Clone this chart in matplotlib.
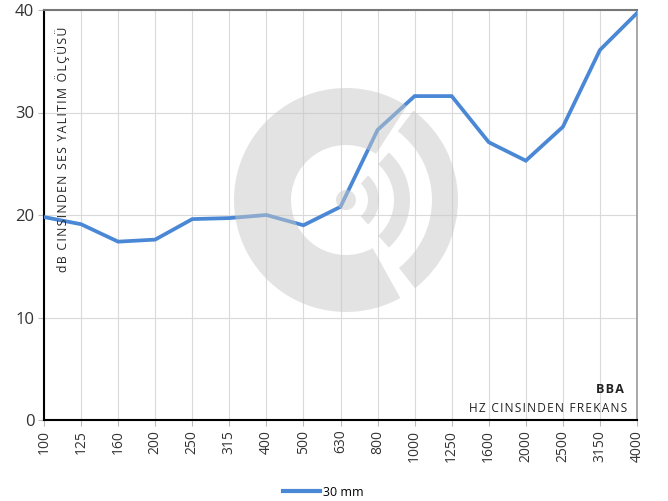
import matplotlib
matplotlib.use("Agg")
import matplotlib.pyplot as plt
from matplotlib.patches import Wedge, Circle
from matplotlib.transforms import IdentityTransform
from matplotlib.lines import Line2D

frequencies = ["100", "125", "160", "200", "250", "315", "400", "500", "630",
               "800", "1000", "1250", "1600", "2000", "2500", "3150", "4000"]
values_30mm = [19.8, 19.1, 17.4, 17.6, 19.6, 19.7, 20.0, 19.0, 20.8,
               28.3, 31.6, 31.6, 27.1, 25.3, 28.6, 36.1, 39.7]
y_ticks = [0, 10, 20, 30, 40]
series_name = "30 mm"
y_title = "dB CINSINDEN SES YALITIM ÖLÇÜSÜ"
x_title = "HZ CINSINDEN FREKANS"
brand = "BBA"

plt.rcParams['font.family'] = ['Open Sans', 'DejaVu Sans']


def spaced(s, sp="\u200a"):
    return sp.join(s)


W, H = 668, 501
fig = plt.figure(figsize=(W / 100, H / 100), dpi=100)
ax = fig.add_axes([44 / W, 1 - 420 / H, (637 - 44) / W, (420 - 10) / H])

x = list(range(len(frequencies)))
ax.set_xlim(0, len(frequencies) - 1)
ax.set_ylim(0, 40)
ax.set_xticks(x)
ax.set_xticklabels(frequencies, rotation=90, fontsize=10, color='#333333')
ax.set_yticks(y_ticks)
ax.set_yticklabels([str(v) for v in y_ticks], fontsize=12, color='#333333')
ax.tick_params(axis='both', length=4, color='#bbbbbb', pad=3)
ax.grid(True, color='#dadada', linewidth=0.8, zorder=0)
ax.set_axisbelow(True)
for s in ['left', 'bottom']:
    ax.spines[s].set_color('black')
    ax.spines[s].set_linewidth(1.5)
ax.spines['top'].set_color('#777777')
ax.spines['top'].set_linewidth(1.5)
ax.spines['right'].set_color('#999999')
ax.spines['right'].set_linewidth(1.2)

# watermark logo (pixel coordinates)
cx, cy = 346, H - 200
gray = '#c8c8c8'
alpha = 0.5
tr = IdentityTransform()
patches = [
    Wedge((cx, cy), 112, 57, 299, width=57),
    Wedge((cx, cy), 112, -52, 53, width=26),
    Wedge((cx, cy), 64, -48, 48, width=16),
    Wedge((cx, cy), 33, -48, 48, width=11),
    Circle((cx, cy), 10),
]
for p in patches:
    p.set_transform(tr)
    p.set_facecolor(gray)
    p.set_edgecolor('none')
    p.set_alpha(alpha)
    p.set_zorder(1)
    fig.add_artist(p)

ax.plot(x, values_30mm, color='#4a88d6', linewidth=2.7, zorder=3,
        solid_joinstyle='miter')

ax.text(0.031, 0.36, spaced(y_title), transform=ax.transAxes, rotation=90,
        fontsize=8.8, color='#222222', ha='center', va='bottom')
ax.text(0.978, 0.075, spaced(brand), transform=ax.transAxes, fontsize=9,
        fontweight='bold', color='#222222', ha='right', va='center')
ax.text(0.984, 0.028, spaced(x_title), transform=ax.transAxes, fontsize=8.6,
        color='#222222', ha='right', va='center')

fig.legend(handles=[Line2D([], [], color='#4a88d6', linewidth=3, label=series_name)],
           loc='center', bbox_to_anchor=(0.4835, 1 - 492 / H), frameon=False,
           fontsize=9, handlelength=3.0, handletextpad=0.2)

fig.savefig('out.png', dpi=100)
